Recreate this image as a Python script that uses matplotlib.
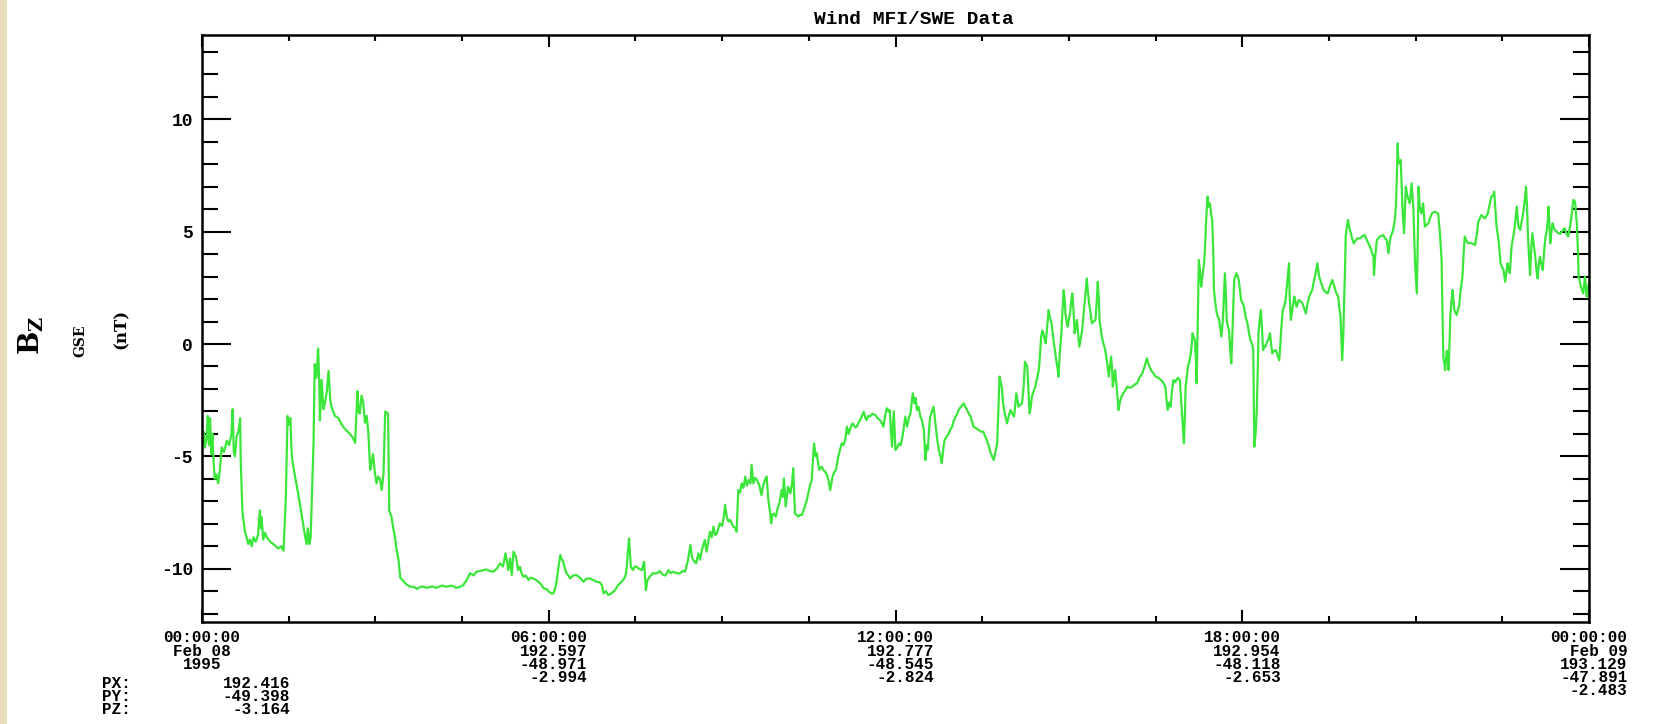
import matplotlib
matplotlib.use("Agg")
import matplotlib.pyplot as plt
from matplotlib.patches import Rectangle
from matplotlib.ticker import MultipleLocator

# Bz GSE (nT), as (hour of day, value) pairs
seg_00_04 = [
    (0.00, -4.4), (0.03, -3.9), (0.05, -4.6), (0.08, -4.2), (0.10, -3.2), (0.12, -4.5),
    (0.14, -3.3), (0.16, -4.9), (0.18, -4.0), (0.20, -5.2), (0.22, -6.0), (0.25, -5.8),
    (0.28, -6.2), (0.31, -5.6), (0.34, -4.6), (0.38, -4.8), (0.43, -4.3), (0.47, -4.5),
    (0.51, -4.0), (0.53, -2.9), (0.55, -4.8), (0.57, -5.0), (0.60, -4.1), (0.63, -3.9),
    (0.66, -3.3), (0.67, -5.2), (0.70, -7.5), (0.74, -8.3), (0.77, -8.6), (0.80, -8.9),
    (0.83, -8.7), (0.86, -9.0), (0.89, -8.6), (0.93, -8.8), (0.97, -8.5), (1.00, -7.4),
    (1.02, -8.2), (1.03, -7.7), (1.06, -8.7), (1.09, -8.4), (1.12, -8.6), (1.18, -8.8),
    (1.23, -8.9), (1.28, -9.0), (1.32, -9.1), (1.37, -9.0), (1.41, -9.2), (1.45, -6.9),
    (1.48, -3.2), (1.50, -3.6), (1.53, -3.3), (1.55, -4.8), (1.57, -5.3), (1.61, -5.9),
    (1.66, -6.6), (1.70, -7.2), (1.75, -8.0), (1.78, -8.5), (1.81, -8.9), (1.83, -8.2),
    (1.86, -8.9), (1.88, -8.6), (1.91, -6.0), (1.93, -4.4), (1.95, -0.9), (1.98, -1.5),
    (2.01, -0.2), (2.03, -1.8), (2.04, -3.4), (2.07, -1.6), (2.10, -2.9), (2.13, -2.6),
    (2.16, -2.1), (2.19, -1.2), (2.22, -2.5), (2.24, -2.8), (2.30, -3.2), (2.36, -3.3),
    (2.42, -3.6), (2.48, -3.8), (2.56, -4.0), (2.62, -4.2), (2.65, -4.4), (2.69, -2.1),
    (2.71, -3.0), (2.73, -3.1), (2.76, -2.3), (2.79, -2.6), (2.82, -3.5), (2.85, -3.2),
    (2.88, -4.0), (2.91, -5.6), (2.94, -5.2), (2.96, -4.9), (2.99, -5.7), (3.02, -6.2),
    (3.05, -5.9), (3.08, -6.0), (3.11, -6.5), (3.14, -5.8), (3.17, -3.0), (3.22, -3.1),
    (3.24, -7.4), (3.28, -7.7), (3.31, -8.2), (3.34, -8.6), (3.37, -9.2), (3.40, -9.6),
    (3.43, -10.4), (3.47, -10.5), (3.50, -10.6), (3.54, -10.7), (3.60, -10.8), (3.66, -10.8),
    (3.72, -10.9), (3.78, -10.8), (3.83, -10.8), (3.90, -10.85), (3.95, -10.8), (4.00, -10.8),
]
seg_04_08 = [
    (4.05, -10.85), (4.15, -10.75), (4.23, -10.8), (4.32, -10.75), (4.40, -10.85), (4.47, -10.8),
    (4.52, -10.73), (4.58, -10.5), (4.64, -10.2), (4.70, -10.3), (4.75, -10.13), (4.82, -10.1),
    (4.92, -10.03), (4.98, -10.1), (5.04, -10.13), (5.10, -10.0), (5.16, -9.76), (5.21, -9.9),
    (5.25, -9.32), (5.28, -9.7), (5.30, -10.06), (5.33, -9.54), (5.36, -10.28), (5.39, -9.24),
    (5.43, -9.46), (5.47, -10.06), (5.50, -9.91), (5.53, -10.2), (5.56, -10.36), (5.60, -10.3),
    (5.65, -10.5), (5.69, -10.4), (5.73, -10.43), (5.78, -10.5), (5.82, -10.58), (5.87, -10.7),
    (5.91, -10.87), (5.96, -10.9), (6.00, -11.02), (6.05, -11.1), (6.08, -11.1), (6.11, -10.9),
    (6.14, -10.5), (6.17, -9.9), (6.20, -9.39), (6.23, -9.6), (6.25, -9.69), (6.28, -10.0),
    (6.31, -10.21), (6.34, -10.3), (6.37, -10.43), (6.42, -10.3), (6.48, -10.28), (6.54, -10.4),
    (6.60, -10.58), (6.65, -10.45), (6.71, -10.43), (6.77, -10.5), (6.83, -10.58), (6.88, -10.6),
    (6.92, -10.73), (6.95, -11.1), (6.99, -11.0), (7.03, -11.17), (7.08, -11.1), (7.12, -11.02),
    (7.16, -10.9), (7.20, -10.73), (7.25, -10.6), (7.29, -10.5), (7.33, -10.3), (7.35, -9.91),
    (7.37, -9.2), (7.39, -8.65), (7.41, -9.5), (7.42, -9.91), (7.46, -10.06), (7.49, -9.9),
    (7.52, -9.91), (7.56, -10.0), (7.61, -10.06), (7.65, -9.69), (7.67, -10.5), (7.68, -10.95),
    (7.71, -10.5), (7.75, -10.35), (7.80, -10.2), (7.87, -10.21), (7.92, -10.1), (7.98, -10.28),
]
seg_08_12 = [
    (8.02, -10.3), (8.07, -10.06), (8.11, -10.2), (8.15, -10.13), (8.21, -10.2), (8.27, -10.2),
    (8.32, -10.1), (8.36, -10.13), (8.41, -9.61), (8.45, -8.94), (8.48, -9.5), (8.50, -9.61),
    (8.55, -9.76), (8.59, -9.32), (8.62, -9.6), (8.65, -9.17), (8.70, -8.72), (8.73, -9.24),
    (8.76, -8.8), (8.79, -8.35), (8.82, -8.6), (8.85, -8.13), (8.88, -8.5), (8.91, -8.43),
    (8.96, -7.98), (9.00, -8.1), (9.03, -7.68), (9.05, -7.16), (9.08, -7.68), (9.11, -7.9),
    (9.14, -7.83), (9.17, -8.0), (9.20, -8.13), (9.23, -8.2), (9.25, -8.35), (9.28, -6.5),
    (9.31, -6.6), (9.34, -6.2), (9.37, -6.4), (9.40, -5.9), (9.43, -6.3), (9.46, -6.05),
    (9.49, -6.2), (9.51, -5.38), (9.54, -6.2), (9.57, -5.95), (9.60, -6.05), (9.63, -6.2),
    (9.65, -6.35), (9.68, -6.72), (9.71, -6.3), (9.74, -6.05), (9.77, -5.9), (9.80, -6.94),
    (9.83, -7.5), (9.85, -7.98), (9.87, -7.6), (9.89, -7.54), (9.93, -7.68), (9.96, -7.3),
    (9.99, -7.09), (10.03, -6.5), (10.05, -6.8), (10.07, -5.98), (10.10, -7.24), (10.14, -6.35),
    (10.18, -6.65), (10.21, -6.2), (10.23, -5.53), (10.26, -7.54), (10.29, -7.6), (10.32, -7.68),
    (10.35, -7.6), (10.38, -7.61), (10.43, -7.24), (10.46, -7.0), (10.49, -6.65), (10.52, -6.3),
    (10.55, -6.05), (10.57, -5.2), (10.59, -4.42), (10.62, -5.0), (10.64, -4.87), (10.66, -5.3),
    (10.68, -5.6), (10.72, -5.46), (10.75, -5.6), (10.78, -5.68), (10.81, -5.8), (10.84, -6.05),
    (10.87, -6.5), (10.91, -5.9), (10.94, -5.7), (10.97, -5.6), (11.01, -5.01), (11.04, -4.7),
    (11.07, -4.42), (11.10, -4.5), (11.13, -4.27), (11.16, -3.68), (11.19, -4.0), (11.21, -3.83),
    (11.24, -3.6), (11.26, -3.53), (11.30, -3.7), (11.33, -3.68), (11.36, -3.5), (11.39, -3.38),
    (11.42, -3.2), (11.45, -3.01), (11.48, -3.3), (11.50, -3.38), (11.53, -3.2), (11.56, -3.23),
    (11.60, -3.1), (11.65, -3.16), (11.69, -3.3), (11.73, -3.38), (11.76, -3.5), (11.79, -3.68),
    (11.82, -3.2), (11.85, -2.86), (11.88, -3.0), (11.90, -2.94), (11.92, -3.8), (11.94, -4.57),
    (11.97, -3.0), (12.00, -4.72),
]
seg_12_16 = [
    (12.03, -4.6), (12.06, -4.42), (12.09, -4.5), (12.11, -4.27), (12.14, -3.8), (12.17, -3.23),
    (12.20, -3.68), (12.23, -3.3), (12.26, -3.08), (12.28, -2.6), (12.30, -2.19), (12.33, -2.64),
    (12.35, -2.4), (12.37, -2.94), (12.40, -2.8), (12.43, -3.23), (12.46, -3.4), (12.49, -3.83),
    (12.52, -5.16), (12.54, -4.5), (12.56, -4.72), (12.58, -3.8), (12.60, -3.23), (12.63, -3.0),
    (12.66, -2.79), (12.69, -3.53), (12.72, -4.2), (12.75, -4.72), (12.78, -5.0), (12.80, -5.31),
    (12.83, -4.6), (12.85, -4.27), (12.89, -4.1), (12.92, -3.98), (12.95, -3.8), (12.98, -3.68),
    (13.01, -3.4), (13.04, -3.23), (13.07, -3.1), (13.09, -2.94), (13.13, -2.8), (13.18, -2.64),
    (13.21, -2.8), (13.24, -2.94), (13.27, -3.1), (13.30, -3.23), (13.35, -3.68), (13.40, -3.75),
    (13.44, -3.83), (13.48, -3.9), (13.52, -3.9), (13.55, -4.1), (13.58, -4.27), (13.61, -4.5),
    (13.64, -4.79), (13.67, -5.0), (13.70, -5.16), (13.73, -4.8), (13.76, -4.42), (13.78, -3.0),
    (13.80, -1.45), (13.82, -1.7), (13.84, -1.9), (13.86, -2.6), (13.89, -3.08), (13.91, -3.3),
    (13.93, -3.53), (13.96, -3.2), (13.99, -2.94), (14.02, -3.1), (14.05, -3.23), (14.07, -2.8),
    (14.09, -2.19), (14.11, -2.5), (14.13, -2.79), (14.16, -2.7), (14.19, -2.64), (14.22, -1.8),
    (14.24, -0.79), (14.26, -0.9), (14.28, -1.01), (14.30, -2.0), (14.32, -3.08), (14.34, -2.8),
    (14.36, -2.34), (14.39, -2.1), (14.42, -1.9), (14.45, -1.5), (14.48, -1.16), (14.50, -0.5),
    (14.52, 0.33), (14.54, 0.6), (14.56, 0.48), (14.58, 0.2), (14.60, 0.03), (14.63, 0.9),
    (14.65, 1.51), (14.67, 1.2), (14.70, 0.92), (14.72, 0.5), (14.74, 0.03), (14.76, -0.3),
    (14.78, -0.71), (14.80, -1.0), (14.82, -1.45), (14.84, -0.5), (14.87, 0.48), (14.89, 1.5),
    (14.91, 2.4), (14.93, 1.9), (14.94, 1.36), (14.96, 1.0), (14.98, 0.77), (15.00, 1.1),
    (15.02, 1.36), (15.04, 1.9), (15.06, 2.25), (15.08, 1.5), (15.10, 0.48), (15.12, 0.8),
    (15.14, 1.07), (15.16, 0.5), (15.18, -0.12), (15.21, 0.3), (15.23, 0.62), (15.25, 1.2),
    (15.27, 1.81), (15.29, 2.4), (15.31, 2.92), (15.33, 2.3), (15.35, 1.81), (15.38, 1.3),
    (15.40, 0.92), (15.43, 1.0), (15.46, 1.07), (15.48, 1.8), (15.50, 2.77), (15.52, 1.9),
    (15.53, 1.07), (15.55, 0.7), (15.57, 0.33), (15.60, 0.0), (15.63, -0.27), (15.66, -0.8),
    (15.69, -1.45), (15.71, -1.0), (15.73, -0.56), (15.75, -1.2), (15.76, -1.9), (15.78, -1.5),
    (15.80, -1.16), (15.83, -2.0), (15.86, -2.94), (15.88, -2.6), (15.91, -2.34), (15.94, -2.2),
    (15.98, -2.05), (16.01, -1.9),
]
seg_16_20 = [
    (16.05, -1.95), (16.10, -1.9), (16.14, -1.8), (16.18, -1.75), (16.22, -1.5), (16.27, -1.31),
    (16.31, -1.0), (16.35, -0.64), (16.38, -0.9), (16.42, -1.16), (16.46, -1.3), (16.50, -1.45),
    (16.55, -1.5), (16.59, -1.6), (16.63, -1.7), (16.67, -1.9), (16.69, -2.5), (16.71, -2.94),
    (16.74, -2.6), (16.76, -2.79), (16.78, -2.2), (16.81, -1.6), (16.84, -1.7), (16.86, -1.6),
    (16.89, -1.5), (16.92, -1.6), (16.95, -2.79), (16.97, -3.6), (16.99, -4.42), (17.01, -3.0),
    (17.02, -1.9), (17.04, -1.5), (17.06, -1.01), (17.09, -0.7), (17.11, -0.42), (17.13, 0.1),
    (17.14, 0.48), (17.16, 0.3), (17.18, 0.18), (17.20, -0.8), (17.21, -1.75), (17.22, -0.5),
    (17.23, 0.92), (17.24, 2.5), (17.25, 3.74), (17.27, 3.2), (17.29, 2.55), (17.31, 3.0),
    (17.34, 3.59), (17.36, 4.5), (17.37, 5.22), (17.39, 6.2), (17.40, 6.56), (17.42, 6.1),
    (17.44, 6.26), (17.46, 5.8), (17.48, 5.52), (17.50, 4.0), (17.51, 2.4), (17.54, 1.7),
    (17.56, 1.36), (17.58, 1.2), (17.60, 1.07), (17.62, 0.7), (17.64, 0.33), (17.66, 0.9),
    (17.67, 1.36), (17.69, 2.5), (17.70, 3.15), (17.72, 2.0), (17.73, 1.07), (17.75, 0.8),
    (17.77, 0.62), (17.79, -0.2), (17.81, -0.86), (17.83, 0.5), (17.86, 2.85), (17.88, 3.0),
    (17.90, 3.15), (17.92, 3.0), (17.94, 2.85), (17.96, 2.4), (17.98, 1.96), (18.01, 1.8),
    (18.03, 1.66), (18.06, 1.2), (18.09, 0.92), (18.11, 0.6), (18.14, 0.18), (18.17, 0.0),
    (18.19, -0.27), (18.20, -2.5), (18.21, -4.57), (18.23, -4.0), (18.25, -3.08), (18.27, -1.0),
    (18.28, 0.48), (18.30, 1.0), (18.32, 1.51), (18.34, 0.8), (18.36, -0.27), (18.38, -0.1),
    (18.40, -0.12), (18.43, 0.1), (18.45, 0.18), (18.48, 0.48), (18.50, 0.0), (18.52, -0.42),
    (18.55, -0.3), (18.58, -0.27), (18.61, -0.5), (18.64, -0.72), (18.66, 0.0), (18.67, 0.48),
    (18.70, 1.51), (18.73, 1.7), (18.75, 1.96), (18.78, 2.8), (18.81, 3.59), (18.82, 2.2),
    (18.84, 1.07), (18.87, 1.6), (18.90, 2.11), (18.92, 1.9), (18.94, 1.66), (18.96, 1.8),
    (18.98, 1.96), (19.01, 1.9), (19.04, 1.81), (19.07, 1.6), (19.10, 1.36), (19.13, 1.8),
    (19.16, 2.11), (19.19, 2.3), (19.21, 2.4), (19.24, 2.8), (19.27, 3.15), (19.30, 3.59),
    (19.33, 3.0), (19.35, 2.85), (19.38, 2.6), (19.41, 2.4), (19.45, 2.3), (19.48, 2.25),
    (19.52, 2.6), (19.56, 2.85), (19.59, 2.6), (19.61, 2.4), (19.64, 2.2), (19.66, 2.11),
    (19.68, 1.6), (19.70, 1.22), (19.72, 0.0), (19.73, -0.72), (19.75, 0.5), (19.76, 1.66),
    (19.78, 3.5), (19.79, 4.78), (19.81, 5.2), (19.83, 5.52), (19.86, 5.1), (19.88, 4.93),
    (19.90, 4.7), (19.93, 4.48), (19.96, 4.6), (19.99, 4.7),
]
seg_20_24 = [
    (20.04, 4.7), (20.08, 4.8), (20.12, 4.85), (20.16, 4.6), (20.21, 4.33), (20.24, 4.1),
    (20.27, 3.89), (20.28, 3.07), (20.30, 3.9), (20.33, 4.63), (20.38, 4.78), (20.44, 4.85),
    (20.47, 4.7), (20.50, 4.63), (20.53, 4.04), (20.55, 4.5), (20.57, 4.78), (20.61, 5.07),
    (20.64, 5.52), (20.66, 6.2), (20.67, 7.0), (20.69, 8.93), (20.70, 8.2), (20.72, 8.04),
    (20.74, 8.19), (20.76, 7.0), (20.77, 6.11), (20.80, 4.93), (20.83, 7.0), (20.86, 6.56),
    (20.88, 6.4), (20.90, 6.26), (20.93, 7.15), (20.96, 6.11), (20.98, 4.5), (20.99, 3.59),
    (21.02, 2.25), (21.04, 5.0), (21.05, 7.0), (21.07, 6.11), (21.10, 5.81), (21.13, 6.26),
    (21.16, 5.22), (21.19, 5.3), (21.22, 5.37), (21.25, 5.6), (21.28, 5.81), (21.33, 5.89),
    (21.39, 5.81), (21.42, 4.93), (21.45, 3.74), (21.46, 2.0), (21.48, -0.59), (21.50, -0.9),
    (21.51, -1.16), (21.53, -0.6), (21.54, -0.3), (21.56, -0.8), (21.57, -1.16), (21.59, 0.3),
    (21.60, 1.22), (21.62, 1.9), (21.64, 2.4), (21.67, 1.51), (21.69, 1.4), (21.71, 1.29),
    (21.73, 1.5), (21.75, 1.66), (21.78, 2.4), (21.81, 3.0), (21.83, 4.0), (21.85, 4.78),
    (21.88, 4.6), (21.91, 4.48), (21.94, 4.5), (21.97, 4.48), (22.00, 4.45), (22.03, 4.4),
    (22.06, 4.9), (22.08, 5.37), (22.11, 5.6), (22.14, 5.74), (22.17, 5.65), (22.20, 5.59),
    (22.25, 5.81), (22.28, 6.2), (22.31, 6.56), (22.34, 6.6), (22.36, 6.78), (22.38, 6.0),
    (22.40, 5.22), (22.42, 4.9), (22.44, 4.48), (22.47, 3.59), (22.50, 3.4), (22.52, 3.29),
    (22.55, 2.77), (22.57, 3.2), (22.59, 3.59), (22.61, 3.3), (22.63, 3.15), (22.66, 4.33),
    (22.69, 4.8), (22.71, 5.07), (22.73, 5.6), (22.75, 6.11), (22.78, 5.22), (22.81, 5.07),
    (22.84, 5.5), (22.86, 5.81), (22.89, 6.4), (22.91, 7.0), (22.93, 6.0), (22.94, 5.07),
    (22.96, 4.0), (22.98, 3.07), (23.00, 4.2), (23.02, 4.93), (23.05, 4.3), (23.07, 3.89),
    (23.09, 3.3), (23.11, 2.92), (23.13, 3.5), (23.15, 3.89), (23.18, 3.5), (23.20, 3.29),
    (23.23, 4.33), (23.25, 4.8), (23.27, 5.07), (23.29, 5.6), (23.30, 6.11), (23.32, 5.0),
    (23.33, 4.48), (23.35, 5.0), (23.37, 5.37), (23.39, 5.2), (23.41, 5.07), (23.44, 5.0),
    (23.47, 4.93), (23.50, 4.9), (23.53, 5.0), (23.56, 5.1), (23.58, 5.15), (23.61, 4.9),
    (23.64, 4.78), (23.67, 5.2), (23.69, 5.52), (23.71, 6.0), (23.73, 6.41), (23.76, 6.33),
    (23.78, 5.6), (23.79, 5.37), (23.81, 4.0), (23.82, 3.0), (23.84, 2.8), (23.86, 2.55),
    (23.88, 2.4), (23.90, 2.25), (23.93, 3.0), (23.96, 2.1), (23.98, 2.5), (24.00, 2.7),
]

tick_hours = [0, 6, 12, 18, 24]
tick_labels = [
    "00:00:00\nFeb 08\n1995",
    "06:00:00\n192.597\n-48.971\n-2.994",
    "12:00:00\n192.777\n-48.545\n-2.824",
    "18:00:00\n192.954\n-48.118\n-2.653",
    "00:00:00\nFeb 09\n193.129\n-47.891\n-2.483",
]
y_ticks = [-10, -5, 0, 5, 10]
position_names = ["PX:", "PY:", "PZ:"]
position_values = ["192.416", "-49.398", "-3.164"]
title = "Wind MFI/SWE Data"

W, H = 1663, 724
MONO = ["Liberation Mono", "DejaVu Sans Mono"]
plt.rcParams["font.family"] = MONO
plt.rcParams["font.weight"] = "bold"
plt.rcParams["mathtext.fontset"] = "dejavuserif"

trace = seg_00_04 + seg_04_08 + seg_08_12 + seg_12_16 + seg_16_20 + seg_20_24
hours = [p[0] for p in trace]
bz = [p[1] for p in trace]

fig = plt.figure(figsize=(W / 100, H / 100), dpi=100)
fig.patches.append(Rectangle((0, 0), 7 / W, 1, transform=fig.transFigure,
                             facecolor="#e8dcb8", edgecolor="none", zorder=0))

ax = fig.add_axes([202 / W, 1 - 622 / H, (1589 - 202) / W, (622 - 35) / H])
ax.plot(hours, bz, color="#3be63b", lw=1.6)
ax.set_xlim(0, 24)
ax.set_ylim(-12.37, 13.75)

ax.set_xticks(tick_hours)
ax.set_xticklabels(tick_labels, fontsize=11.5, linespacing=0.85, va="top")
for i, lab in enumerate(ax.get_xticklabels()):
    lab.set_multialignment("center" if i == 0 else "right")
ax.xaxis.set_minor_locator(MultipleLocator(1.5))
ax.set_yticks(y_ticks)
ax.set_yticklabels([str(v) for v in y_ticks], fontsize=13)
ax.yaxis.set_minor_locator(MultipleLocator(1))

ax.tick_params(axis="x", which="major", direction="in", length=8.6, width=1.5,
               top=True, bottom=True, pad=6)
ax.tick_params(axis="x", which="minor", direction="in", length=4.3, width=1.5,
               top=True, bottom=True)
ax.tick_params(axis="y", which="major", direction="in", length=20.9, width=1.5,
               left=True, right=True, pad=6.5)
ax.tick_params(axis="y", which="minor", direction="in", length=11.5, width=1.5,
               left=True, right=True)
for s in ax.spines.values():
    s.set_linewidth(1.8)

# y-axis label pieces
fig.text(31 / W, 1 - 335 / H, r"B$_\mathrm{Z}$", rotation=90, fontsize=20,
         family="DejaVu Serif", weight="bold", ha="center", va="center")
fig.text(80 / W, 1 - 341 / H, "GSE", rotation=90, fontsize=10,
         family="DejaVu Serif", weight="bold", ha="center", va="center")
fig.text(121 / W, 1 - 329 / H, "(nT)", rotation=90, fontsize=12,
         family="DejaVu Serif", weight="bold", ha="center", va="center")

fig.text(914 / W, 1 - 19 / H, title, fontsize=14, ha="center", va="center")

# spacecraft position block under the first tick label
fig.text(102 / W, 1 - 676 / H, "\n".join(position_names), fontsize=11.5,
         linespacing=0.85, ha="left", va="top")
fig.text(290 / W, 1 - 676 / H, "\n".join(position_values), fontsize=11.5,
         linespacing=0.85, ha="right", va="top", multialignment="right")

fig.savefig("out.png", dpi=100, facecolor="white")
